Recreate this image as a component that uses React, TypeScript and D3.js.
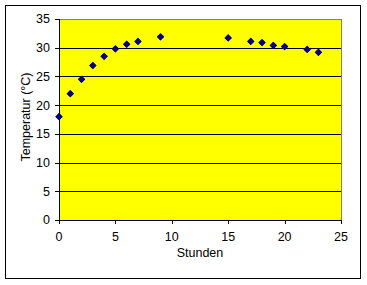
import React from "react";
import * as d3 from "d3";

const hours = [0, 1, 2, 3, 4, 5, 6, 7, 9, 15, 17, 18, 19, 20, 22, 23];
const temps = [18.0, 22.0, 24.5, 26.9, 28.5, 29.8, 30.6, 31.1, 31.9, 31.7, 31.1, 30.9, 30.4, 30.2, 29.7, 29.2];
const xTicks = [0, 5, 10, 15, 20, 25];
const yTicks = [0, 5, 10, 15, 20, 25, 30, 35];
const xLabel = "Stunden";
const yLabel = "Temperatur (°C)";

export default function App() {
  const W = 367, H = 285;
  const left = 59, right = 341, top = 19, bottom = 220;
  const x = d3.scaleLinear().domain([0, 25]).range([left, right]);
  const y = d3.scaleLinear().domain([0, 35]).range([bottom, top]);
  const font = "'Liberation Sans', Arial, sans-serif";
  const diamond = d3.symbol().type(d3.symbolDiamond2).size(34)() as string;
  const diamondSq = d3.symbol().type(d3.symbolSquare).size(26)() as string;
  return (
    <svg width={W} height={H} style={{ position: "fixed", left: 0, top: 0 }} fontFamily={font}>
      <rect x={0} y={0} width={W} height={H} fill="#fff" />
      <rect x={5.5} y={5.5} width={355} height={273} fill="#fff" stroke="#000" strokeWidth={1} />
      <rect x={left} y={top} width={right - left} height={bottom - top} fill="#ffff00" stroke="#808080" strokeWidth={1} shapeRendering="crispEdges" />
      {yTicks.filter(t => t > 0 && t < 35).map(t => (
        <line key={t} x1={left} x2={right} y1={Math.round(y(t)) + 0.5} y2={Math.round(y(t)) + 0.5} stroke="#000" shapeRendering="crispEdges" />
      ))}
      <line x1={left + 0.5} x2={left + 0.5} y1={top} y2={bottom + 0.5} stroke="#000" shapeRendering="crispEdges" />
      <line x1={left} x2={right + 0.5} y1={bottom + 0.5} y2={bottom + 0.5} stroke="#000" shapeRendering="crispEdges" />
      {yTicks.map(t => (
        <g key={"y" + t}>
          <line x1={left - 4} x2={left} y1={Math.round(y(t)) + 0.5} y2={Math.round(y(t)) + 0.5} stroke="#000" shapeRendering="crispEdges" />
          <text x={left - 9} y={y(t)} dy="0.35em" textAnchor="end" fontSize={12.5} fill="#000">{t}</text>
        </g>
      ))}
      {xTicks.map(t => (
        <g key={"x" + t}>
          <line x1={Math.round(x(t)) + 0.5} x2={Math.round(x(t)) + 0.5} y1={bottom} y2={bottom + 4} stroke="#000" shapeRendering="crispEdges" />
          <text x={x(t)} y={236.5} dy="0.35em" textAnchor="middle" fontSize={12.5} fill="#000">{t}</text>
        </g>
      ))}
      <text x={(left + right) / 2} y={252.5} dy="0.35em" textAnchor="middle" fontSize={12.5} fill="#000">{xLabel}</text>
      <text transform={`translate(25.5,117) rotate(-90)`} dy="0.35em" textAnchor="middle" fontSize={12.5} fill="#000">{yLabel}</text>
      {hours.map((h, i) => (
        <g key={"p" + i} transform={`translate(${x(h)},${y(temps[i])})`} fill="#000080">
          <path d={diamond} />
          <path d={diamondSq} transform="rotate(45)" />
        </g>
      ))}
    </svg>
  );
}
